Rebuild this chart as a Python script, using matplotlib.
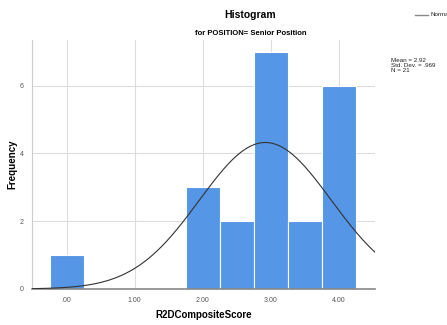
import numpy as np
import matplotlib
matplotlib.use('Agg')
import matplotlib.pyplot as plt

# histogram data (bin centers, counts), bin width 0.5
bin_centers = [0.0, 2.0, 2.5, 3.0, 3.5, 4.0]
counts = [1, 3, 2, 7, 2, 6]
bin_width = 0.5
x_ticks = [0, 1, 2, 3, 4]
x_labels = ['.00', '1.00', '2.00', '3.00', '4.00']
y_ticks = [0, 2, 4, 6]
mean, sd, n = 2.92, 0.969, 21

bar_color = '#5596E6'
plt.rcParams['font.family'] = ['Liberation Sans', 'DejaVu Sans']

fig = plt.figure(figsize=(4.47, 3.25), dpi=100)
ax = fig.add_axes([0.0716, 0.111, 0.767, 0.766])

ax.bar(bin_centers, counts, width=bin_width, color=bar_color,
       edgecolor='white', linewidth=0.8, zorder=2)

# normal curve scaled to counts
xs = np.linspace(-0.5, 4.53, 300)
pdf = np.exp(-0.5 * ((xs - mean) / sd) ** 2) / (sd * np.sqrt(2 * np.pi))
ax.plot(xs, n * bin_width * pdf, color='#333333', linewidth=0.8, zorder=3)

ax.set_xlim(-0.51, 4.53)
ax.set_ylim(0, 7.35)
ax.set_xticks(x_ticks)
ax.set_xticklabels(x_labels)
ax.set_yticks(y_ticks)
ax.tick_params(length=0, labelsize=5, colors='#555555', pad=6)
ax.grid(True, color='#dddddd', linewidth=0.8, zorder=0)
ax.set_axisbelow(True)
for side in ['top', 'right']:
    ax.spines[side].set_visible(False)
ax.spines['left'].set_color('#cccccc')
ax.spines['bottom'].set_color('#888888')
ax.spines['bottom'].set_linewidth(1.2)

ax.set_xlabel('R2DCompositeScore', fontsize=7, fontweight='bold', va='center')
ax.set_ylabel('Frequency', fontsize=7, fontweight='bold', va='center')
ax.xaxis.set_label_coords(0.5, -0.105)
ax.yaxis.set_label_coords(-0.058, 0.5)

fig.text(0.56, 0.955, 'Histogram', ha='center', va='center',
         fontsize=7.5, fontweight='bold')
fig.text(0.56, 0.898, 'for POSITION= Senior Position', ha='center', va='center',
         fontsize=5.5, fontweight='bold')

fig.text(0.875, 0.823, 'Mean = 2.92\nStd. Dev. = .969\nN = 21', ha='left', va='top',
         fontsize=4.5, color='#222222', linespacing=1.0)

fig.lines.append(plt.Line2D([0.928, 0.958], [0.955, 0.955], transform=fig.transFigure,
                            color='#888888', linewidth=1.0))
fig.text(0.962, 0.955, 'Normal', ha='left', va='center', fontsize=4.5,
         color='#222222')

fig.savefig('out.png', dpi=100)
